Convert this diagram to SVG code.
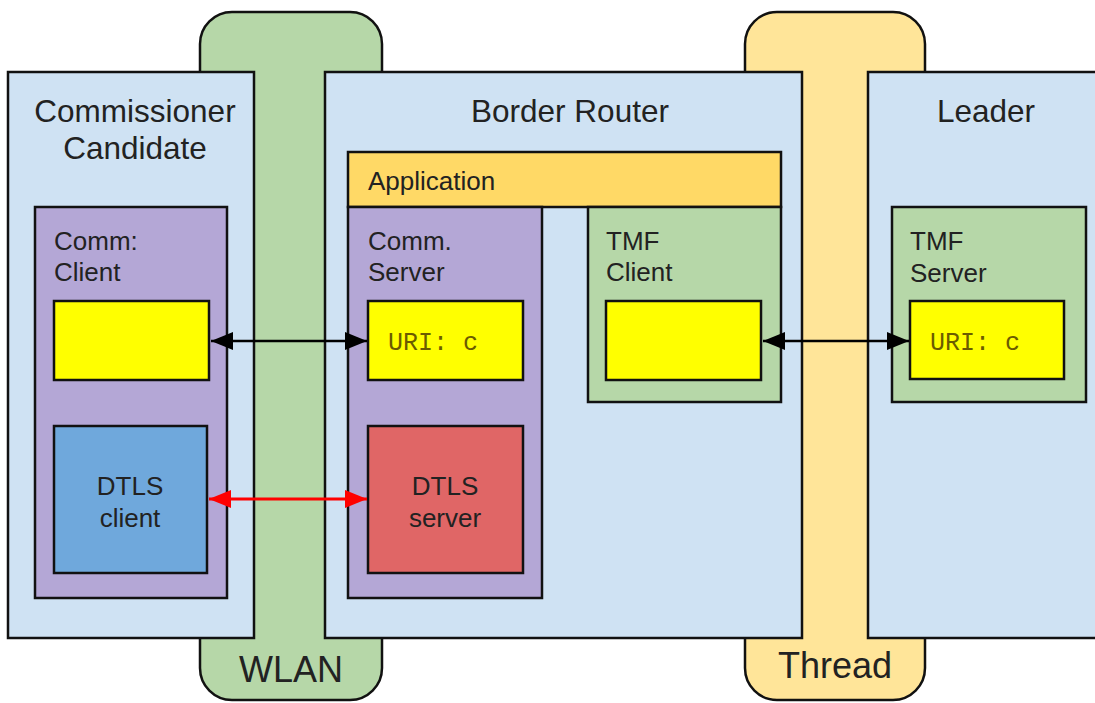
<svg xmlns="http://www.w3.org/2000/svg" width="1095" height="703" viewBox="0 0 1095 703">
<style>
.bx{stroke:#111;stroke-width:2.5}
.blue{fill:#cfe2f3}.green{fill:#b6d7a8}.orange{fill:#ffe599}.app{fill:#ffd966}
.purple{fill:#b4a7d6}.yel{fill:#ffff00}.dblue{fill:#6fa8dc}.red{fill:#e06666}
text{font-family:"Liberation Sans",Arial,sans-serif;fill:#222}
.t{font-size:31.5px;text-anchor:middle}
.l{font-size:26px}
.c{font-size:26px;text-anchor:middle}
.n{font-size:36px;text-anchor:middle}
.m{font-family:"Liberation Mono","Courier New",monospace;font-size:25px;fill:#6b5b00}
</style>
<defs>
<marker id="ab" viewBox="0 0 22 18" refX="22" refY="9" markerWidth="22" markerHeight="18" markerUnits="userSpaceOnUse" orient="auto-start-reverse"><path d="M0,0 L22,9 L0,18 z" fill="#000"/></marker>
<marker id="ar" viewBox="0 0 22 18" refX="22" refY="9" markerWidth="22" markerHeight="18" markerUnits="userSpaceOnUse" orient="auto-start-reverse"><path d="M0,0 L22,9 L0,18 z" fill="#f00"/></marker>
</defs>
<g id="wlan"><rect class="bx green" x="200" y="12" width="182" height="688" rx="32"/><text class="n" x="291" y="682">WLAN</text></g>
<g id="thread"><rect class="bx orange" x="745" y="12" width="180" height="688" rx="32"/><text class="n" x="835" y="678">Thread</text></g>
<g id="commissioner"><rect class="bx blue" x="8" y="72" width="246" height="566"/><text class="t" x="135" y="122">Commissioner</text><text class="t" x="135" y="159">Candidate</text></g>
<g id="border-router"><rect class="bx blue" x="325" y="72" width="477" height="566"/><text class="t" x="570" y="122">Border Router</text></g>
<g id="leader"><rect class="bx blue" x="868" y="72" width="240" height="566"/><text class="t" x="986" y="122">Leader</text></g>
<g id="comm-client"><rect class="bx purple" x="35" y="207" width="192" height="391"/><text class="l" x="54" y="250">Comm:</text><text class="l" x="54" y="281">Client</text></g>
<g id="cc-yellow"><rect class="bx yel" x="54" y="301" width="155" height="79"/></g>
<g id="dtls-client"><rect class="bx dblue" x="54" y="426" width="153" height="147"/><text class="c" x="130" y="495">DTLS</text><text class="c" x="130" y="527">client</text></g>
<g id="application"><rect class="bx app" x="348" y="152" width="433" height="55"/><text class="l" x="368" y="190">Application</text></g>
<g id="comm-server"><rect class="bx purple" x="348" y="207" width="194" height="391"/><text class="l" x="368" y="250">Comm.</text><text class="l" x="368" y="281">Server</text></g>
<g id="cs-uri"><rect class="bx yel" x="368" y="301" width="155" height="79"/><text class="m" x="388" y="350">URI: c</text></g>
<g id="dtls-server"><rect class="bx red" x="368" y="426" width="155" height="147"/><text class="c" x="445" y="495">DTLS</text><text class="c" x="445" y="527">server</text></g>
<g id="tmf-client"><rect class="bx green" x="588" y="207" width="193" height="195"/><text class="l" x="606" y="250">TMF</text><text class="l" x="606" y="281">Client</text></g>
<g id="tc-yellow"><rect class="bx yel" x="606" y="301" width="155" height="79"/></g>
<g id="tmf-server"><rect class="bx green" x="892" y="207" width="194" height="195"/><text class="l" x="910" y="250">TMF</text><text class="l" x="910" y="282">Server</text></g>
<g id="ts-uri"><rect class="bx yel" x="910" y="301" width="154" height="78"/><text class="m" x="930" y="350">URI: c</text></g>
<g id="connectors" fill="none" stroke-width="2.5">
<line x1="211" y1="341" x2="367" y2="341" stroke="#000" marker-start="url(#ab)" marker-end="url(#ab)"/>
<line x1="763" y1="341" x2="909" y2="341" stroke="#000" marker-start="url(#ab)" marker-end="url(#ab)"/>
<line x1="209" y1="499" x2="367" y2="499" stroke="#f00" stroke-width="3" marker-start="url(#ar)" marker-end="url(#ar)"/>
</g>
</svg>
